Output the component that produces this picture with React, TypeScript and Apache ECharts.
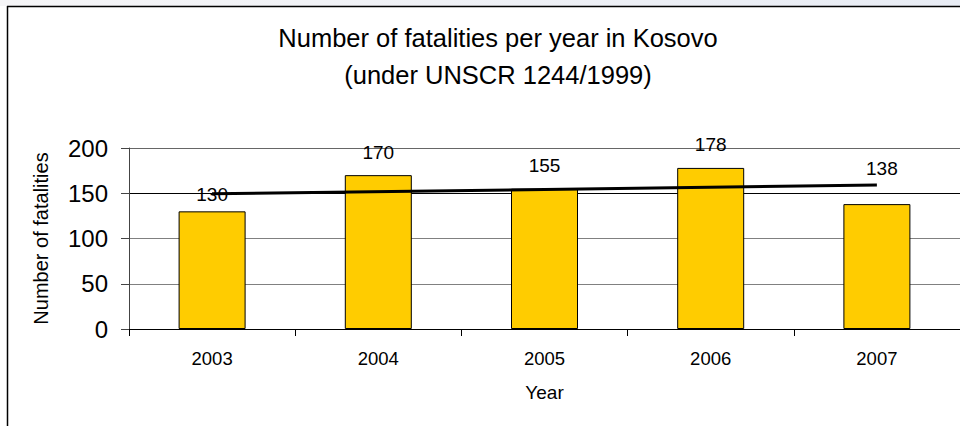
import React, { useEffect, useRef } from "react";
import * as echarts from "echarts";

const years = ["2003", "2004", "2005", "2006", "2007"];
const fatalities = [130, 170, 155, 178, 138];
// linear trend line: value at first and last year
const trendLine = [149.4, null, null, null, 159.0];
const yTicks = { min: 0, max: 200, interval: 50 };

const titleLines = ["Number of fatalities per year in Kosovo", "(under UNSCR 1244/1999)"];
const yAxisName = "Number of fatalities";
const xAxisName = "Year";

// label placement tweaks (distance above bar, horizontal shift)
const labelDistances = [7, 13, 14, 14, 26];
const labelShifts = [0, 0, 0, 0, 5];

const FONT = "'Liberation Sans', Arial, Helvetica, sans-serif";

export default function App() {
  const ref = useRef<HTMLDivElement>(null);

  useEffect(() => {
    if (!ref.current) return;
    const chart = echarts.init(ref.current, null, { renderer: "svg" });
    chart.setOption({
      animation: false,
      backgroundColor: "#ffffff",
      textStyle: { fontFamily: FONT, color: "#000" },
      title: {
        text: titleLines.join("\n"),
        left: 493,
        top: 14,
        textAlign: "center",
        textStyle: {
          fontFamily: FONT,
          fontSize: 25.5,
          fontWeight: "normal",
          color: "#000",
          lineHeight: 37,
        },
      },
      graphic: [
        {
          type: "rect",
          shape: { x: 0, y: 0, width: 960, height: 6 },
          style: {
            fill: new echarts.graphic.LinearGradient(0, 0, 1, 0, [
              { offset: 0, color: "#f5f5f7" },
              { offset: 1, color: "#e8ecf4" },
            ]),
          },
          silent: true,
        },
        {
          type: "line",
          shape: { x1: 7, y1: 6.5, x2: 960, y2: 6.5 },
          style: { stroke: "#000", lineWidth: 1.5 },
          silent: true,
        },
        {
          type: "line",
          shape: { x1: 7.5, y1: 6, x2: 7.5, y2: 426 },
          style: { stroke: "#000", lineWidth: 1.5 },
          silent: true,
        },
      ],
      grid: { left: 129, top: 148, width: 835, height: 181, containLabel: false },
      xAxis: {
        type: "category",
        data: years,
        boundaryGap: true,
        name: xAxisName,
        nameLocation: "middle",
        nameGap: 54,
        nameTextStyle: { fontFamily: FONT, fontSize: 19, color: "#000", verticalAlign: "top" },
        axisLine: { show: true, lineStyle: { color: "#000", width: 1 } },
        axisTick: { show: true, interval: 0, length: 7, lineStyle: { color: "#000" } },
        axisLabel: { interval: 0, fontFamily: FONT, fontSize: 18.5, color: "#000", margin: 20 },
        splitLine: { show: false },
      },
      yAxis: {
        type: "value",
        min: yTicks.min,
        max: yTicks.max,
        interval: yTicks.interval,
        name: yAxisName,
        nameLocation: "middle",
        nameGap: 78,
        nameRotate: 90,
        nameTextStyle: { fontFamily: FONT, fontSize: 20, color: "#000" },
        axisLine: { show: true, lineStyle: { color: "#444", width: 1 } },
        axisTick: { show: true, length: 8, lineStyle: { color: "#444" } },
        axisLabel: { fontFamily: FONT, fontSize: 24, color: "#000", margin: 21 },
        splitLine: {
          show: true,
          lineStyle: { color: ["#000", "#808080", "#808080", "#000", "#666"], width: 1 },
        },
      },
      series: [
        {
          type: "bar",
          data: fatalities.map((v, i) => ({
            value: v,
            label: { distance: labelDistances[i], offset: [labelShifts[i], 0] },
          })),
          barWidth: 67,
          itemStyle: { color: "#FFCC00", borderColor: "#000", borderWidth: 1 },
          label: {
            show: true,
            position: "top",
            fontFamily: FONT,
            fontSize: 19,
            color: "#000",
          },
          z: 2,
        },
        {
          type: "line",
          data: trendLine,
          connectNulls: true,
          symbol: "none",
          lineStyle: { color: "#000", width: 3 },
          z: 3,
        },
      ],
    });
    return () => chart.dispose();
  }, []);

  return (
    <div
      ref={ref}
      style={{ position: "absolute", left: 0, top: 0, width: 960, height: 426 }}
    />
  );
}
